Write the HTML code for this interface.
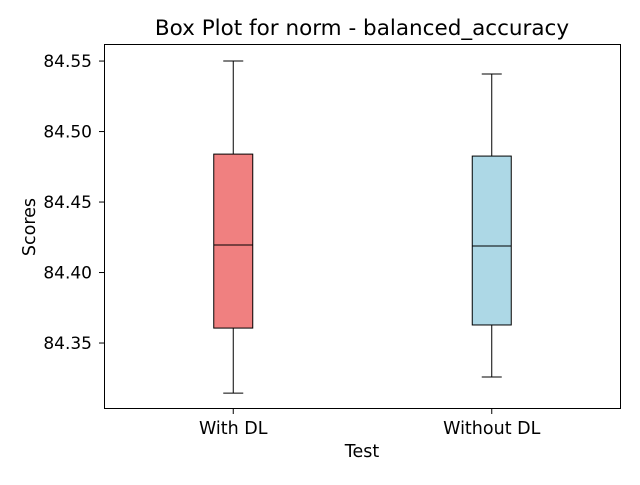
<!DOCTYPE html>
<html><head><meta charset="utf-8"><style>
body{margin:0;background:#fff;}
svg text{font-family:"DejaVu Sans","Liberation Sans",sans-serif;}
</style></head><body>
<svg id="chart" width="640" height="480" xmlns="http://www.w3.org/2000/svg">
<rect width="640" height="480" fill="#fff"/>
<text x="362" y="35" font-size="21.5" text-anchor="middle">Box Plot for norm - balanced_accuracy</text>
<g id="plot"></g>
<rect x="104.5" y="44.5" width="516" height="364" fill="none" stroke="#000" stroke-width="1" shape-rendering="crispEdges"/>
<text x="362" y="457" font-size="17.5" text-anchor="middle">Test</text>
<text x="35" y="227" font-size="17.5" text-anchor="middle" transform="rotate(-90 35 227)">Scores</text>
</svg>
<script>
const categories = ["With DL", "Without DL"];
const whiskerLow = [84.3145, 84.3259];
const q1 = [84.3606, 84.3628];
const median = [84.4195, 84.4188];
const q3 = [84.484, 84.4826];
const whiskerHigh = [84.55, 84.5408];
const colors = ["#f08080", "#add8e6"];
const yTicks = [84.35, 84.40, 84.45, 84.50, 84.55];
const yTickLabels = ["84.35", "84.40", "84.45", "84.50", "84.55"];

const L=104,R=621,T=44,B=409, yMin=84.3032, yMax=84.5621;
const y = v => B - (v - yMin) / (yMax - yMin) * (B - T);
const x = i => L + (R - L) * (0.25 + 0.5 * i);
const g = document.getElementById('plot');
const NS = 'http://www.w3.org/2000/svg';
function mk(tag, attrs){const e=document.createElementNS(NS,tag);for(const k in attrs)e.setAttribute(k,attrs[k]);g.appendChild(e);return e;}

yTicks.forEach((t,i)=>{
  const tk=mk('line',{x1:L-5,x2:L,y1:y(t),y2:y(t),stroke:'#000'});
  
  
  const tx=mk('text',{x:L-12,y:y(t)+6,'font-size':17,'text-anchor':'end'});
  tx.textContent=yTickLabels[i];
  
  
});
categories.forEach((c,i)=>{
  const cx=x(i), hw=19.5, cw=10;
  const tk=mk('line',{x1:cx,x2:cx,y1:B,y2:B+5,stroke:'#000'});
  
  
  const tx=mk('text',{x:cx,y:B+25,'font-size':17.5,'text-anchor':'middle'});
  tx.textContent=c;
  
  
  const w1=mk('line',{x1:cx,x2:cx,y1:y(whiskerLow[i]),y2:y(q1[i]),stroke:'#000'});
  
  
  const w2=mk('line',{x1:cx,x2:cx,y1:y(q3[i]),y2:y(whiskerHigh[i]),stroke:'#000'});
  
  
  const c1=mk('line',{x1:cx-cw,x2:cx+cw,y1:y(whiskerLow[i]),y2:y(whiskerLow[i]),stroke:'#000'});
  
  
  const c2=mk('line',{x1:cx-cw,x2:cx+cw,y1:y(whiskerHigh[i]),y2:y(whiskerHigh[i]),stroke:'#000'});
  
  
  const bx=mk('rect',{x:cx-hw,y:y(q3[i]),width:2*hw,height:y(q1[i])-y(q3[i]),fill:colors[i],stroke:'#000'});
  
  
  const md=mk('line',{x1:cx-hw,x2:cx+hw,y1:y(median[i]),y2:y(median[i]),stroke:'#000'});
  
  
});
</script>
</body></html>
